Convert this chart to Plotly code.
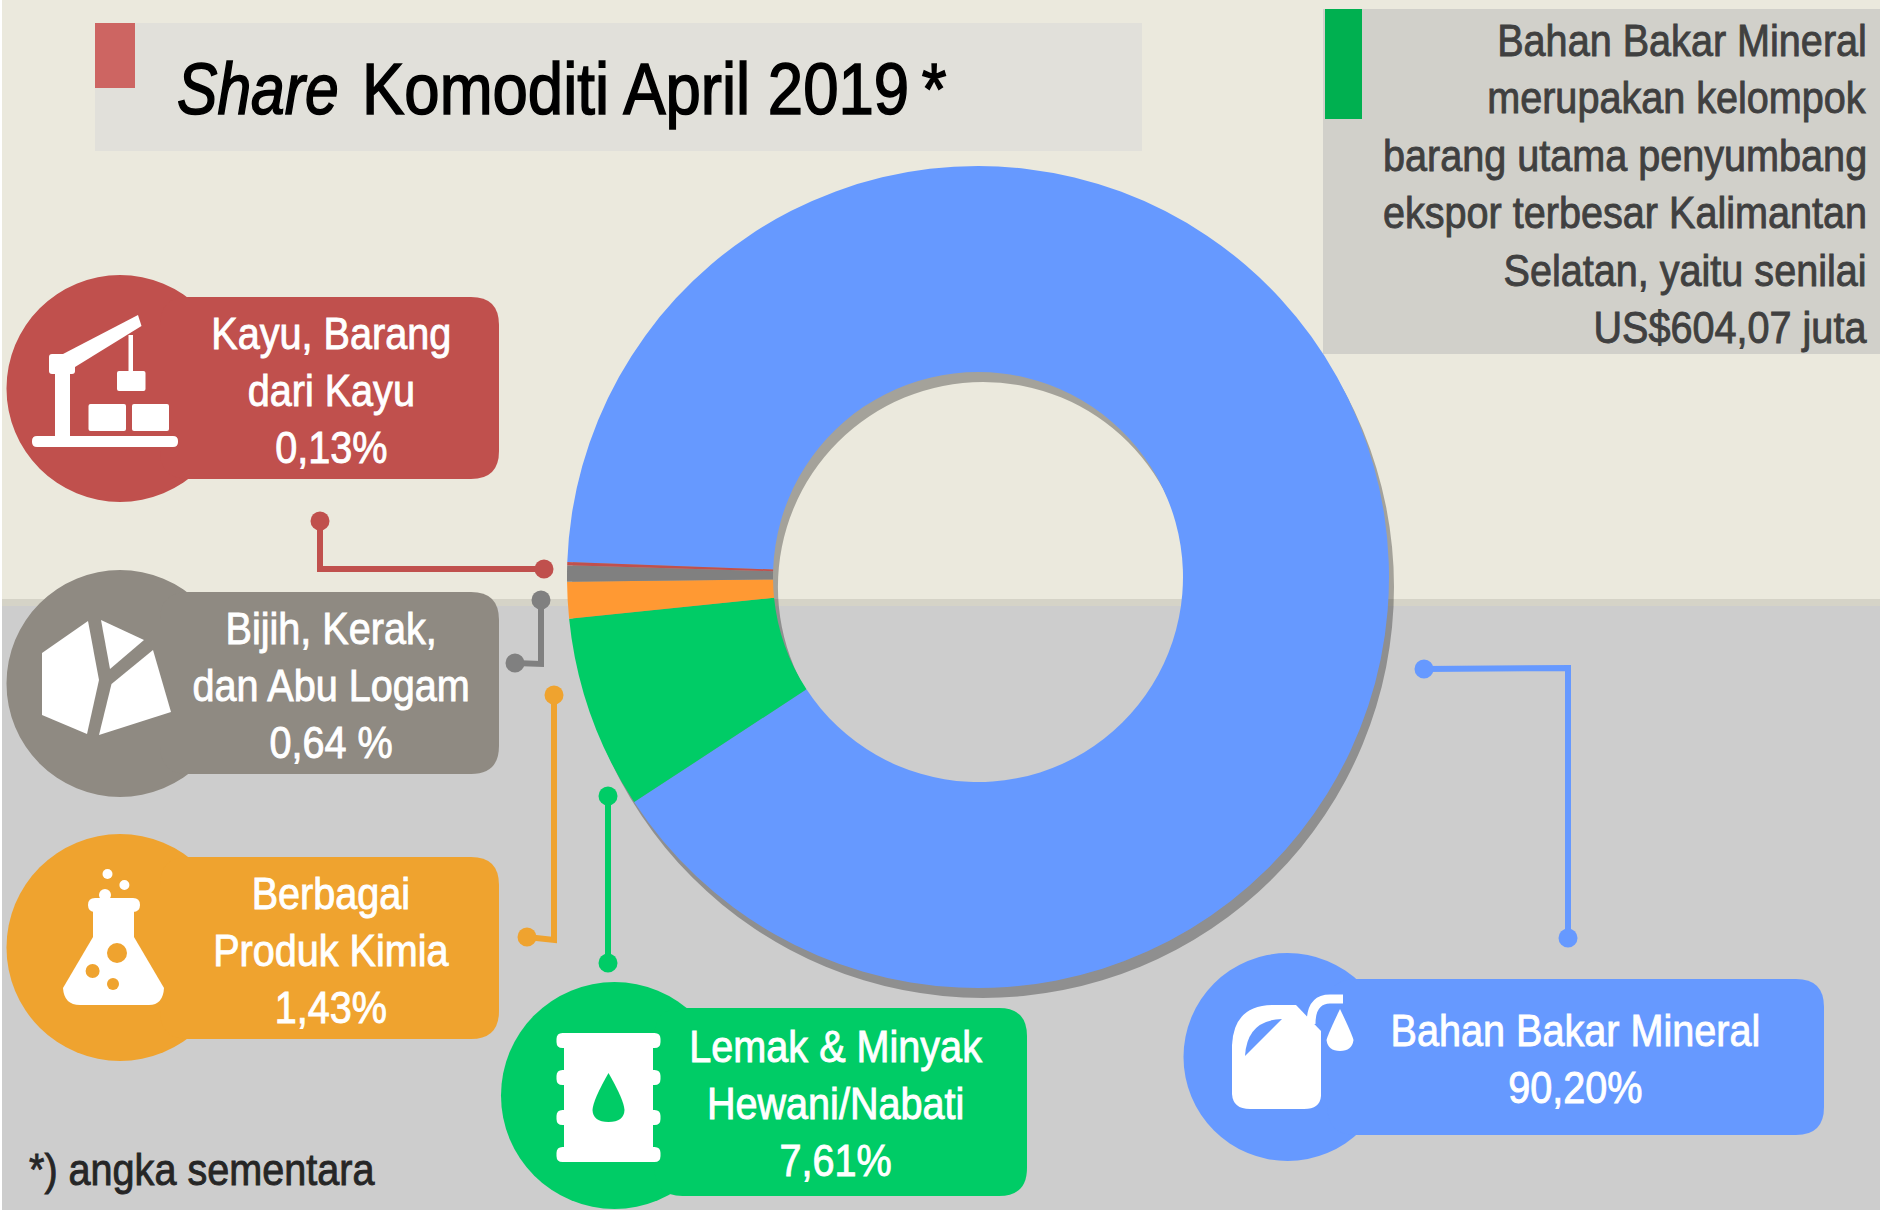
import plotly.graph_objects as go

W, H = 1880, 1210
FONT = "Liberation Sans"

# Chart data
categories = ["Bahan Bakar Mineral", "Lemak & Minyak Hewani/Nabati", "Berbagai Produk Kimia",
              "Bijih, Kerak, dan Abu Logam", "Kayu, Barang dari Kayu"]
shares = [90.20, 7.61, 1.43, 0.64, 0.13]
slice_colors = ["#6699FF", "#00CC66", "#FF9933", "#808080", "#C0504D"]

title_lead = "<i>Share</i>"
title_rest = "Komoditi April 2019\u2009*"
note_lines = ["Bahan Bakar Mineral", "merupakan kelompok", "barang utama penyumbang",
              "ekspor terbesar Kalimantan", "Selatan, yaitu senilai", "US$604,07 juta"]
footnote = "*) angka sementara"
labels_text = ["Kayu, Barang<br>dari Kayu<br>0,13%",
               "Bijih, Kerak,<br>dan Abu Logam<br>0,64 %",
               "Berbagai<br>Produk Kimia<br>1,43%",
               "Lemak & Minyak<br>Hewani/Nabati<br>7,61%",
               "Bahan Bakar Mineral<br>90,20%"]

shapes = []
def rect(x0, y0, x1, y1, c, layer="below"):
    shapes.append(dict(type="rect", xref="x", yref="y", x0=x0, y0=y0, x1=x1, y1=y1,
                       fillcolor=c, line_width=0, layer=layer))
def circ(cx, cy, rx, ry=None, c="#fff", layer="above"):
    ry = rx if ry is None else ry
    shapes.append(dict(type="circle", xref="x", yref="y", x0=cx-rx, y0=cy-ry, x1=cx+rx, y1=cy+ry,
                       fillcolor=c, line_width=0, layer=layer))
def path(d, c="#fff", layer="above"):
    shapes.append(dict(type="path", xref="x", yref="y", path=d, fillcolor=c, line_width=0, layer=layer))
def stroke(d, c, w, layer="below"):
    shapes.append(dict(type="path", xref="x", yref="y", path=d, line=dict(color=c, width=w), layer=layer))
def rrect(x0, y0, x1, y1, r, c="#fff", layer="above"):
    path(f"M{x0+r} {y0} L{x1-r} {y0} Q{x1} {y0} {x1} {y0+r} L{x1} {y1-r} Q{x1} {y1} {x1-r} {y1} "
         f"L{x0+r} {y1} Q{x0} {y1} {x0} {y1-r} L{x0} {y0+r} Q{x0} {y0} {x0+r} {y0} Z", c, layer)
def poly(pts, c="#fff"):
    path("M" + " L".join(f"{x} {y}" for x, y in pts) + " Z", c)

# Background bands
rect(0, 0, W, H, "#FFFFFF")
rect(2, 0, W, 599, "#EBE9DD")
rect(2, 599, W, 606, "#D5D3C7")
rect(2, 606, W, H, "#CDCDCD")

# Title and note boxes
rect(95, 23, 1142, 151, "#E1E0DA")
rect(95, 23, 135, 88, "#CD6562")
rect(1323, 9, W, 354, "#D1D0CA")
rect(1325, 9, 1362, 119, "#00B050")

# Label bubbles: circle + rounded box
RED, GREY, ORANGE, GREEN, BLUE = "#C0504D", "#8F8A82", "#EFA32F", "#00CC66", "#6699FF"
for cx, cy, r, x1, y0, y1, c in [(120, 388.5, 113.5, 499, 297, 479, RED),
                                 (120, 683.5, 113.5, 499, 592, 774, GREY),
                                 (120, 947.5, 113.5, 499, 857, 1039, ORANGE),
                                 (614.5, 1095.5, 113.5, 1027, 1008, 1196, GREEN),
                                 (1287.5, 1057, 104, 1824, 979, 1135, BLUE)]:
    circ(cx, cy, r, c=c)
    rrect(cx+40, y0, x1, y1, 28, c)

# Leader lines and their end dots
LEADERS = [
    ([(320, 521), (320, 569), (544, 569)], RED),
    ([(541, 600), (541, 664), (515, 663)], "#808080"),
    ([(554, 695), (554, 940), (527, 937)], ORANGE),
    ([(608, 796), (608, 963)], GREEN),
    ([(1424, 669), (1568, 668), (1568, 938)], BLUE),
]
for pts, c in LEADERS:
    stroke("M" + " L".join(f"{x} {y}" for x, y in pts), c, 6)
    for i in (0, -1):
        circ(pts[i][0], pts[i][1], 9.5, c=c, layer="below")

# Crane icon
rrect(32, 436, 178, 447, 5)
rect(55, 367, 70, 437, "#FFFFFF", "above")
rrect(49, 354, 75, 374, 3)
poly([(63, 354), (138, 315), (141.5, 326), (75, 367)])
rect(128.5, 335, 133, 372, "#FFFFFF", "above")
rrect(117, 371, 145.5, 391, 2)
rrect(88.5, 404, 126, 431, 2)
rrect(132, 404, 169, 431, 2)

# Rock icon
poly([(88, 621), (42, 653), (42, 715), (87, 734), (99, 680)])
poly([(101, 620), (144, 640), (110, 669)])
poly([(153, 650), (171, 712), (99, 735), (111.5, 684)])

# Flask icon
rrect(88, 898, 140, 912, 7)
rect(93, 910, 134, 938, "#FFFFFF", "above")
path("M93 937 L63 988 Q64 1005 80 1005 L149 1005 Q163 1005 164 988 L134 937 Z")
circ(107.5, 874, 5); circ(124.4, 885, 5); circ(105, 895, 6)
circ(117, 953, 10, c=ORANGE); circ(92.6, 971, 7, c=ORANGE); circ(113, 984, 6, c=ORANGE)

# Barrel icon
rect(564, 1033, 653, 1162, "#FFFFFF", "above")
for y0, y1 in [(1033, 1048), (1070, 1085), (1110, 1125), (1147, 1162)]:
    rrect(556.5, y0, 660.5, y1, 6)
path("M608.5 1073 Q624 1100 624.5 1110 Q624 1122 608.5 1122 Q593 1122 592.5 1110 Q593 1100 608.5 1073 Z", GREEN)

# Jerry can icon
path("M1232 1045 Q1234 1005 1273 1005 L1296 1005 L1321 1031 L1321 1096 Q1320 1109 1304 1109 "
     "L1250 1109 Q1233 1109 1232 1094 Z")
path("M1282 1019 Q1247 1020 1245 1056 Z", BLUE)
shapes.append(dict(type="path", xref="x", yref="y", path="M1311 1024 Q1311 999 1330 999 L1343 999",
                   line=dict(color="#FFFFFF", width=9), layer="above"))
path("M1340 1009 Q1352 1034 1353.5 1040 Q1352 1051 1340 1051 Q1328 1051 1326.5 1040 Q1328 1034 1340 1009 Z")

# Annotations
anns = []
def text(x, y, s, size, color, xa="center"):
    anns.append(dict(x=x, y=y, xref="x", yref="y", text=s, showarrow=False, xanchor=xa, yanchor="middle",
                     align="center" if xa == "center" else xa,
                     font=dict(family=FONT, size=size, color=color)))

text(175, 88, title_lead, 73, "#000000", xa="left")
text(360, 88, title_rest, 73, "#000000", xa="left")
for i, line in enumerate(note_lines):
    text(1869, 40 + i * 57.5, line, 44, "#404040", xa="right")
text(27, 1169, footnote, 44, "#262626", xa="left")
for (x, y), s in zip([(331, 390), (331, 685), (331, 950), (836, 1103), (1575, 1059)], labels_text):
    text(x, y, s, 44, "#FFFFFF")

# Donut geometry in page pixels
CX, CY, R, HOLE = 978, 577, 411, 205
SHADOW_DX, SHADOW_DY = 5, 10
def dom(cx, cy, r):
    return dict(x=[(cx-r)/W, (cx+r)/W], y=[1-(cy+r)/H, 1-(cy-r)/H])

fig = go.Figure()
# Drop shadow ring (translucent, so it darkens both background bands)
fig.add_trace(go.Pie(values=[100], labels=["shadow"], hole=HOLE/R,
                     domain=dom(CX+SHADOW_DX, CY+SHADOW_DY, R),
                     marker=dict(colors=["rgba(0,0,0,0.3)"], line=dict(width=0)), textinfo="none",
                     hoverinfo="skip", sort=False, showlegend=False))
fig.add_trace(go.Pie(values=shares, labels=categories, hole=HOLE/R, domain=dom(CX, CY, R),
                     rotation=272.1, direction="clockwise", sort=False,
                     marker=dict(colors=slice_colors, line=dict(width=0)), textinfo="none",
                     showlegend=False))

fig.update_layout(
    width=W, height=H, margin=dict(l=0, r=0, t=0, b=0, pad=0), autosize=False,
    paper_bgcolor="rgba(0,0,0,0)", plot_bgcolor="rgba(0,0,0,0)", showlegend=False,
    xaxis=dict(range=[0, W], visible=False, fixedrange=True, domain=[0, 1]),
    yaxis=dict(range=[H, 0], visible=False, fixedrange=True, domain=[0, 1]),
    shapes=shapes, annotations=anns,
)
# invisible cartesian trace keeps the pixel-based x/y axes alive for shapes and text
fig.add_trace(go.Scatter(x=[0, W], y=[0, H], mode="markers", marker=dict(opacity=0),
                         hoverinfo="skip", showlegend=False))

# The reference uses a condensed face: narrow the real text horizontally around its anchor.
POST = """
document.body.style.margin='0';
document.documentElement.style.overflow='hidden';
var gd=document.getElementById('{plot_id}');
function condense(){
  var anns=gd.layout.annotations;
  gd.querySelectorAll('g.annotation').forEach(function(g){
    var a=anns[+g.getAttribute('data-index')];
    var t=g.querySelector('text.annotation-text');
    if(!a||!t)return;
    var big=a.font.size>60;
    var lead=a.text.indexOf('<i>')===0;
    t.style.transformBox='fill-box';
    t.style.transformOrigin=(a.xanchor==='left'?'left':a.xanchor==='right'?'right':'center')+' center';
    t.style.transform='scaleX('+(lead?0.83:big?0.87:0.90)+')';
    t.style.stroke=a.font.color;
    t.style.strokeWidth=big?'1.6px':'0.9px';
  });
}
condense();setTimeout(condense,100);setTimeout(condense,500);
"""
fig.write_html("out.html", config={"displayModeBar": False}, post_script=POST)
